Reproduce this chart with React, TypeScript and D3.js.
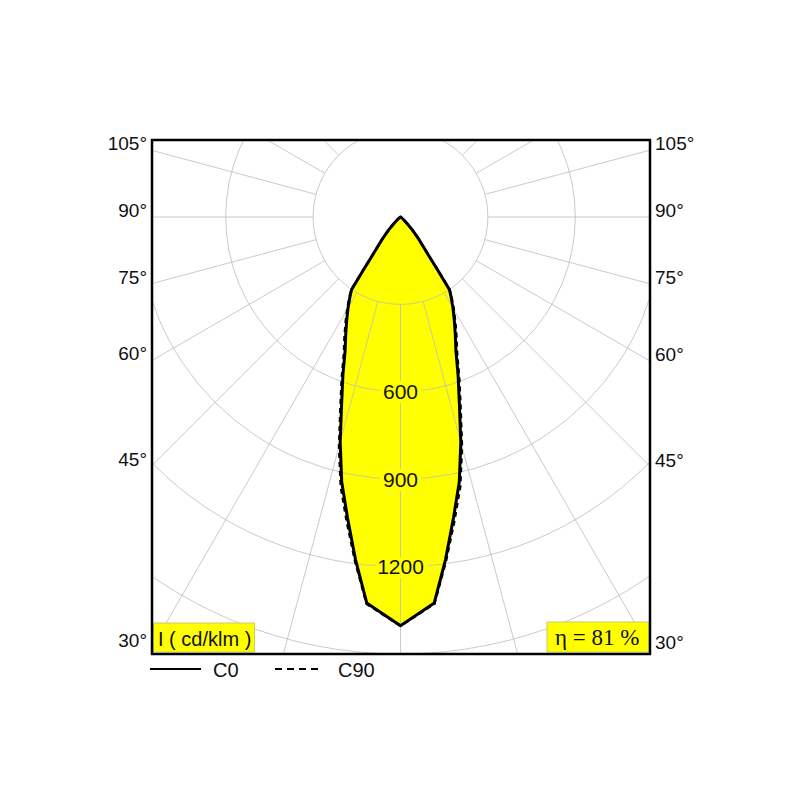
import * as d3 from "d3";
import { useEffect, useRef } from "react";

// angles from nadir (deg) and luminous intensity (cd/klm)
const gammaAngles = [0, 5, 7.5, 10, 12.5, 15, 17.5, 20, 22.5, 25, 27.5, 30, 32.5, 34, 35, 36, 38, 40, 42.5, 45, 50, 55, 60, 70, 80, 90];
const c0Values = [1403, 1330, 1185, 1048, 932, 800, 672, 578, 497, 445, 400, 360, 322, 300, 225, 170, 120, 92, 60, 35, 12, 3, 0, 0, 0, 0];
const c90Values = [1403, 1333, 1193, 1062, 948, 815, 686, 590, 508, 455, 408, 366, 326, 302, 226, 170, 120, 92, 60, 35, 12, 3, 0, 0, 0, 0];

const ringValues = [300, 600, 900, 1200, 1500];
const ringLabels = [600, 900, 1200];
const sideAngles = [30, 45, 60, 75, 90, 105];
const spokeAngles = d3.range(0, 360, 15);

const unitLabel = "I ( cd/klm )";
const efficiencyLabel = "η = 81 %";
const legendItems = [
  { name: "C0", dash: null as string | null, len: 51, offset: 0 },
  { name: "C90", dash: "7,5", len: 43, offset: 125 },
];

type Pt = { g: number; v: number };

export default function App() {
  const ref = useRef<SVGSVGElement>(null);

  useEffect(() => {
    if (!ref.current) return;
    const svg = d3.select(ref.current);
    svg.selectAll("*").remove();

    const cx = 400.5;
    const cy = 217;
    const box = { x0: 152, x1: 650, y0: 140, y1: 654 };
    const sans = "'Liberation Sans', Arial, Helvetica, sans-serif";

    const r = d3.scaleLinear().domain([0, 1500]).range([0, 437]);
    const rad = (deg: number) => (deg * Math.PI) / 180;

    svg
      .append("defs")
      .append("clipPath")
      .attr("id", "plot-clip")
      .append("rect")
      .attr("x", box.x0)
      .attr("y", box.y0)
      .attr("width", box.x1 - box.x0)
      .attr("height", box.y1 - box.y0);

    // left half mirrors the right half
    const mirror = (vals: number[]): Pt[] => [
      ...gammaAngles.map((g, i) => ({ g: -g, v: vals[i] })).reverse(),
      ...gammaAngles.slice(1).map((g, i) => ({ g, v: vals[i + 1] })),
    ];

    const line = d3
      .lineRadial<Pt>()
      .angle((d) => Math.PI - rad(d.g))
      .radius((d) => r(d.v))
      .curve(d3.curveLinearClosed);

    const plot = svg.append("g").attr("clip-path", "url(#plot-clip)");
    const center = plot.append("g").attr("transform", `translate(${cx},${cy})`);

    // fills
    center.append("path").attr("d", line(mirror(c90Values))).attr("fill", "#ffff00");
    center.append("path").attr("d", line(mirror(c0Values))).attr("fill", "#ffff00");

    // grid
    center
      .selectAll("circle.ring")
      .data(ringValues)
      .join("circle")
      .attr("class", "ring")
      .attr("r", (d) => r(d))
      .attr("fill", "none")
      .attr("stroke", "#bcbcbc")
      .attr("stroke-width", 0.8);

    center
      .selectAll("line.spoke")
      .data(spokeAngles)
      .join("line")
      .attr("class", "spoke")
      .attr("x1", (d) => r(300) * Math.sin(rad(d)))
      .attr("y1", (d) => r(300) * Math.cos(rad(d)))
      .attr("x2", (d) => 900 * Math.sin(rad(d)))
      .attr("y2", (d) => 900 * Math.cos(rad(d)))
      .attr("stroke", "#bcbcbc")
      .attr("stroke-width", 0.8);

    // curves
    center
      .append("path")
      .attr("d", line(mirror(c90Values)))
      .attr("fill", "none")
      .attr("stroke", "#000")
      .attr("stroke-width", 2.5)
      .attr("stroke-dasharray", "5,4");
    center
      .append("path")
      .attr("d", line(mirror(c0Values)))
      .attr("fill", "none")
      .attr("stroke", "#000")
      .attr("stroke-width", 3)
      .attr("stroke-linejoin", "round");

    // ring value labels
    center
      .selectAll("text.ring-label")
      .data(ringLabels)
      .join("text")
      .attr("class", "ring-label")
      .attr("x", 0)
      .attr("y", (d) => r(d))
      .attr("dy", "0.36em")
      .attr("text-anchor", "middle")
      .style("font-family", sans)
      .style("font-size", "21px")
      .style("fill", "#111")
      .style("stroke", "#ffff00")
      .style("stroke-width", 8)
      .style("stroke-linejoin", "round")
      .style("paint-order", "stroke")
      .text((d) => d);

    // unit and efficiency boxes
    svg
      .append("rect")
      .attr("x", 153.5)
      .attr("y", 623)
      .attr("width", 101)
      .attr("height", 29)
      .attr("fill", "#ffff00")
      .attr("stroke", "#c9c96a")
      .attr("stroke-width", 1);
    svg
      .append("text")
      .attr("x", 158)
      .attr("y", 646)
      .style("font-family", sans)
      .style("font-size", "20px")
      .style("fill", "#111")
      .text(unitLabel);

    svg
      .append("rect")
      .attr("x", 547)
      .attr("y", 622)
      .attr("width", 102)
      .attr("height", 30)
      .attr("fill", "#ffff00")
      .attr("stroke", "#c9c96a")
      .attr("stroke-width", 1);
    svg
      .append("text")
      .attr("x", 555)
      .attr("y", 645)
      .style("font-family", "'Liberation Serif', 'Times New Roman', serif")
      .style("font-size", "23px")
      .style("fill", "#111")
      .text(efficiencyLabel);

    // frame
    svg
      .append("rect")
      .attr("x", box.x0)
      .attr("y", box.y0)
      .attr("width", box.x1 - box.x0)
      .attr("height", box.y1 - box.y0)
      .attr("fill", "none")
      .attr("stroke", "#000")
      .attr("stroke-width", 2.5);

    // side angle labels, placed where each spoke meets the frame
    const hitY = (deg: number, dx: number) => cy + dx / Math.tan(rad(deg));
    svg
      .selectAll("text.left-angle")
      .data(sideAngles)
      .join("text")
      .attr("class", "left-angle")
      .attr("x", box.x0 - 5)
      .attr("y", (d) => hitY(d, cx - box.x0))
      .attr("text-anchor", "end")
      .style("font-family", sans)
      .style("font-size", "19px")
      .style("fill", "#111")
      .text((d) => `${d}°`);
    svg
      .selectAll("text.right-angle")
      .data(sideAngles)
      .join("text")
      .attr("class", "right-angle")
      .attr("x", box.x1 + 5)
      .attr("y", (d) => hitY(d, box.x1 - cx))
      .attr("text-anchor", "start")
      .style("font-family", sans)
      .style("font-size", "19px")
      .style("fill", "#111")
      .text((d) => `${d}°`);

    // legend
    const legend = svg
      .selectAll("g.legend")
      .data(legendItems)
      .join("g")
      .attr("class", "legend")
      .attr("transform", (d) => `translate(${150 + d.offset},669)`);
    legend
      .append("line")
      .attr("x1", 0)
      .attr("x2", (d) => d.len)
      .attr("y1", 0)
      .attr("y2", 0)
      .attr("stroke", "#000")
      .attr("stroke-width", 2)
      .attr("stroke-dasharray", (d) => d.dash);
    legend
      .append("text")
      .attr("x", (d) => (d.dash ? 63 : 63))
      .attr("y", 8)
      .style("font-family", sans)
      .style("font-size", "20px")
      .style("fill", "#111")
      .text((d) => d.name);
  }, []);

  return (
    <svg
      ref={ref}
      width={800}
      height={800}
      style={{ position: "absolute", left: 0, top: 0, background: "#fff" }}
    />
  );
}
